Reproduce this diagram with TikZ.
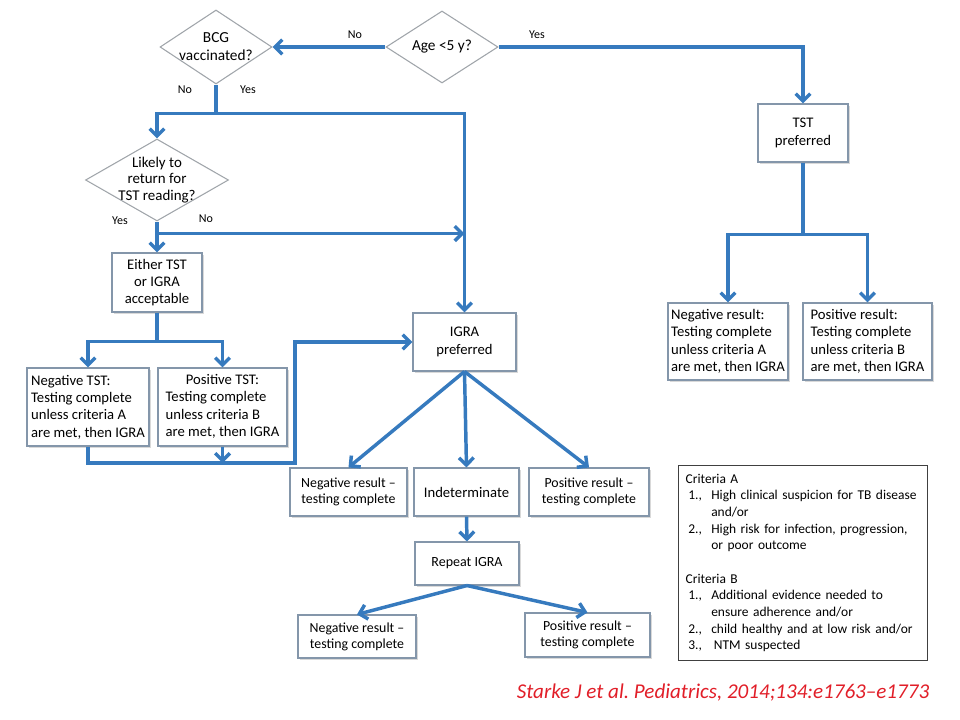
\documentclass[tikz,border=0pt]{standalone}
\usepackage{fontspec}
\setmainfont{Carlito}
\usetikzlibrary{shapes.geometric,arrows.meta,shadows}
\definecolor{flowblue}{RGB}{54,122,190}
\definecolor{boxline}{RGB}{132,150,170}
\definecolor{diamline}{RGB}{160,165,170}
\definecolor{citered}{RGB}{225,30,40}
\tikzset{
  box/.style={draw=boxline, line width=0.8pt, fill=white, inner sep=2pt, align=center,
    drop shadow={shadow xshift=1.2pt, shadow yshift=-1.2pt, opacity=0.3},
    font=\fontsize{11}{13}\selectfont},
  resbox/.style={box, font=\fontsize{10.4}{12}\selectfont},
  decision/.style={diamond, draw=diamline, line width=0.8pt, fill=white, inner sep=0pt},
  dectext/.style={align=center, inner sep=0pt, font=\fontsize{11.5}{13.5}\selectfont},
  flow/.style={draw=flowblue, line width=2.6pt, -{Straight Barb[length=5.5pt,width=11pt]}},
  link/.style={draw=flowblue, line width=2.6pt},
  answer/.style={inner sep=0pt, font=\fontsize{9}{10}\selectfont},
}
\begin{document}
\begin{tikzpicture}[x=0.75pt,y=-0.75pt]
\useasboundingbox (0,0) rectangle (960,720);
\node[decision, minimum width=84pt, minimum height=54pt] (age) at (442,47) {};
\node[dectext] (agetext) at (age) {Age <5 y?};
\node[decision, minimum width=84pt, minimum height=55.5pt] (bcg) at (216,47) {};
\node[dectext] (bcgtext) at (bcg) {BCG\\vaccinated?};
\node[decision, minimum width=107.25pt, minimum height=61.5pt] (likely) at (157,180) {};
\node[dectext, font=\fontsize{11.2}{12.5}\selectfont] (likelytext) at (likely) {Likely to\\return for\\TST reading?};
\node[box, minimum width=67.5pt, minimum height=43.5pt] (tstpref) at (803,133) {TST\\preferred};
\node[box, minimum width=90pt, minimum height=57.75pt, align=left] (tstneg) at (728,341.5) {Negative result:\\Testing complete\\unless criteria A\\are met, then IGRA};
\node[box, minimum width=96.75pt, minimum height=57.75pt, align=left] (tstpos) at (867.5,341.5) {Positive result:\\Testing complete\\unless criteria B\\are met, then IGRA};
\node[box, minimum width=67.5pt, minimum height=44.25pt, font=\fontsize{11}{12.5}\selectfont] (either) at (157,282.5) {Either TST\\or IGRA\\acceptable};
\node[box, minimum width=91.5pt, minimum height=58.5pt, align=left] (negtst) at (88,407) {Negative TST:\\Testing complete\\unless criteria A\\are met, then IGRA};
\node[box, minimum width=96.75pt, minimum height=58.5pt] (postst) at (222.5,407) {\begin{tabular}{@{}l@{}}\multicolumn{1}{@{}c@{}}{Positive TST:}\\Testing complete\\unless criteria B\\are met, then IGRA\end{tabular}};
\node[box, minimum width=77.25pt, minimum height=43.5pt] (igra) at (464.5,342) {IGRA\\preferred};
\node[resbox, minimum width=87.75pt, minimum height=36pt] (negres) at (348.5,492) {Negative result --\\testing complete};
\node[box, minimum width=78.75pt, minimum height=36pt] (indet) at (466.5,492) {Indeterminate};
\node[resbox, minimum width=90pt, minimum height=36pt] (posres) at (589,492) {Positive result --\\testing complete};
\node[box, minimum width=78pt, minimum height=32.25pt, font=\fontsize{10.5}{12}\selectfont] (repeat) at (467,563.5) {Repeat IGRA};
\node[resbox, minimum width=88.5pt, minimum height=32.25pt] (negrep) at (357,636.5) {Negative result --\\testing complete};
\node[resbox, minimum width=93.75pt, minimum height=33pt] (posrep) at (587.5,635) {Positive result --\\testing complete};
\node[draw=black!75, line width=0.8pt, anchor=north west, minimum width=186.75pt, minimum height=146.25pt,
  inner xsep=5pt, text width=176pt, align=left, font=\fontsize{10.1}{12.5}\selectfont] (criteria) at (678,465)
  {\begin{tabular}{@{}l@{\hspace{7pt}}l@{}}
  \multicolumn{2}{@{}l}{Criteria A}\\
  \hspace{2pt}1., & High clinical suspicion for TB disease\\
   & and/or\\
  \hspace{2pt}2., & High risk for infection, progression,\\
   & or poor outcome\\
   & \\
  \multicolumn{2}{@{}l}{Criteria B}\\
  \hspace{2pt}1., & Additional evidence needed to\\
   & ensure adherence and/or\\
  \hspace{2pt}2., & child healthy and at low risk and/or\\
  \hspace{2pt}3., & \hspace{2pt}NTM suspected
  \end{tabular}};
\node[answer] (agno) at (355,35) {No};
\node[answer] (agyes) at (537,35) {Yes};
\node[answer] (bcgno) at (185,90) {No};
\node[answer] (bcgyes) at (248,90) {Yes};
\node[answer] (likyes) at (120,221) {Yes};
\node[answer] (likno) at (206,219) {No};
\node[text=citered, font=\fontsize{15.8}{17}\selectfont\itshape] (cite) at (723,693) {Starke J et al.\ Pediatrics, 2014;134:e1763--e1773};
\draw[flow] (age.west) -- (bcg.east);
\draw[flow] (age.east) -| (tstpref.north);
\draw[link] (bcg.south) -- ++(0,29) coordinate (bcgsplit);
\draw[flow] (bcgsplit) -| (likely.north);
\draw[flow] (bcgsplit) -| (igra.north);
\draw[flow] (likely.south) -- (either.north);
\path (likely.south) ++(0,12) coordinate (likelysplit);
\draw[flow] (likelysplit) -- (likelysplit -| igra.north);
\draw[link] (either.south) -- ++(0,29) coordinate (eithersplit);
\draw[flow] (eithersplit) -| (negtst.north);
\draw[flow] (eithersplit) -| (postst.north);
\coordinate (merge) at (295,463);
\draw[flow] (negtst.south) |- (merge) |- (igra.west);
\draw[flow] (postst.south) -- (postst.south |- merge);
\draw[flow] (igra.south) -- (negres.north);
\draw[flow] (igra.south) -- (indet.north);
\draw[flow] (igra.south) -- (posres.north);
\draw[flow] (indet.south) -- (repeat.north);
\draw[flow] (repeat.south) -- (negrep.north);
\draw[flow] (repeat.south) -- (posrep.north);
\draw[link] (tstpref.south) -- ++(0,72) coordinate (tstsplit);
\draw[flow] (tstsplit) -| (tstneg.north);
\draw[flow] (tstsplit) -| (tstpos.north);
\end{tikzpicture}
\end{document}
